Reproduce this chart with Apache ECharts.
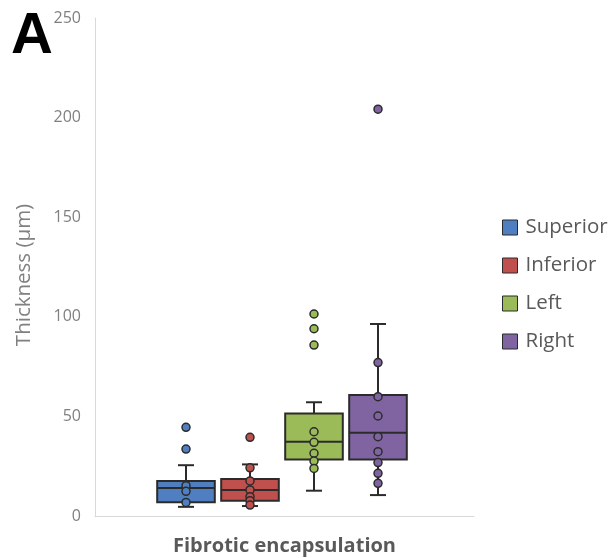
<!DOCTYPE html>
<html><head><meta charset="utf-8">
<script src="https://cdn.jsdelivr.net/npm/echarts@6/dist/echarts.min.js"></script>
<style>html,body{margin:0;padding:0;background:#fff}#c{width:613px;height:558px}</style>
</head><body><div id="c"></div>
<script>
const groups = ['Superior', 'Inferior', 'Left', 'Right'];
const colors = ['#4f7fc0', '#c0504d', '#9bbb59', '#8064a2'];
const yTicks = [0, 50, 100, 150, 200, 250];
// [min, Q1, median, Q3, max]
const boxStats = [
  [4.6, 6.9, 14.0, 17.6, 25.5],
  [5.0, 7.7, 13.1, 18.6, 25.9],
  [12.7, 28.4, 37.3, 51.4, 57.1],
  [10.5, 28.4, 41.8, 60.7, 96.4]
];
const innerPoints = [
  [15.2, 12.4, 6.8],
  [24.2, 17.6, 13.1, 9.7, 7.7, 5.5],
  [42.3, 37.0, 31.5, 27.6, 23.9],
  [77.0, 59.9, 50.2, 39.8, 32.3, 26.8, 21.4, 16.4]
];
const outliers = [
  [44.5, 33.6],
  [39.5],
  [101.4, 94.0, 85.8],
  [204.2]
];

const chart = echarts.init(document.getElementById('c'));
const boxData = boxStats.map((s, i) => [i].concat(s));

const scatterSeries = groups.map((g, i) => ({
  name: g,
  type: 'scatter',
  xAxisIndex: 1, yAxisIndex: 1,
  symbol: 'circle',
  symbolSize: 8,
  z: 5,
  itemStyle: { color: colors[i], borderColor: '#2b2b2b', borderWidth: 1.5, opacity: 1 },
  data: innerPoints[i].concat(outliers[i]).map(v => [i, v])
}));

chart.setOption({
  animation: false,
  textStyle: { fontFamily: 'Open Sans' },
  grid: [
    { left: 95, right: 139, top: 18, bottom: 42, outerBoundsMode: 'none', containLabel: false },
    { left: 154, right: 203, top: 18, bottom: 42, outerBoundsMode: 'none', containLabel: false }
  ],
  xAxis: [
    { gridIndex: 0, type: 'category', data: ['Fibrotic encapsulation'],
      axisLine: { lineStyle: { color: '#d9d9d9', width: 1 } },
      axisTick: { show: false }, axisLabel: { show: false },
      name: 'Fibrotic encapsulation', nameLocation: 'middle', nameGap: 20,
      nameTextStyle: { color: '#595959', fontSize: 20, fontWeight: 'bold', fontFamily: 'Open Sans' } },
    { gridIndex: 1, type: 'category', data: groups, show: false }
  ],
  yAxis: [
    { gridIndex: 0, type: 'value', min: 0, max: 250, interval: 50,
      axisLine: { show: true, lineStyle: { color: '#d9d9d9', width: 1 } },
      axisTick: { show: false }, splitLine: { show: false },
      axisLabel: { color: '#808080', fontSize: 16, margin: 14,
        formatter: v => yTicks.includes(v) ? String(v) : '' },
      name: 'Thickness (µm)', nameLocation: 'middle', nameGap: 60,
      nameTextStyle: { color: '#808080', fontSize: 20.5, fontFamily: 'Open Sans', padding: [0, 16, 0, 0] } },
    { gridIndex: 1, type: 'value', min: 0, max: 250, show: false }
  ],
  legend: {
    orient: 'vertical', left: 497, top: 212,
    icon: 'rect', itemWidth: 15, itemHeight: 15, itemGap: 17,
    data: groups,
    textStyle: { color: '#595959', fontSize: 20.5, fontFamily: 'Open Sans', padding: [0, 0, 0, 3] },
    itemStyle: { borderColor: '#2b2b2b', borderWidth: 1 }
  },
  graphic: [{
    type: 'text', left: 11, top: 8,
    style: { text: 'A', font: 'bold 58px "Liberation Sans", Arial', fill: '#000' }
  }],
  series: [{
    type: 'custom',
    xAxisIndex: 1, yAxisIndex: 1,
    z: 2,
    encode: { x: 0, y: [1, 2, 3, 4, 5] },
    data: boxData,
    renderItem: function (params, api) {
      const i = api.value(0);
      const x = api.coord([i, 0])[0];
      const bw = api.size([1, 0])[0] * 0.9;
      const yMin = api.coord([i, api.value(1)])[1];
      const yQ1 = api.coord([i, api.value(2)])[1];
      const yMed = api.coord([i, api.value(3)])[1];
      const yQ3 = api.coord([i, api.value(4)])[1];
      const yMax = api.coord([i, api.value(5)])[1];
      const cap = 16;
      const ls = { stroke: '#2b2b2b', lineWidth: 2 };
      return {
        type: 'group',
        children: [
          { type: 'line', shape: { x1: x, y1: yMax, x2: x, y2: yQ3 }, style: ls },
          { type: 'line', shape: { x1: x, y1: yQ1, x2: x, y2: yMin }, style: ls },
          { type: 'line', shape: { x1: x - cap / 2, y1: yMax, x2: x + cap / 2, y2: yMax }, style: ls },
          { type: 'line', shape: { x1: x - cap / 2, y1: yMin, x2: x + cap / 2, y2: yMin }, style: ls },
          { type: 'rect', shape: { x: x - bw / 2, y: yQ3, width: bw, height: yQ1 - yQ3 },
            style: { fill: colors[i], stroke: '#2b2b2b', lineWidth: 2 } },
          { type: 'line', shape: { x1: x - bw / 2, y1: yMed, x2: x + bw / 2, y2: yMed }, style: ls }
        ]
      };
    }
  }].concat(scatterSeries)
});
</script></body></html>
